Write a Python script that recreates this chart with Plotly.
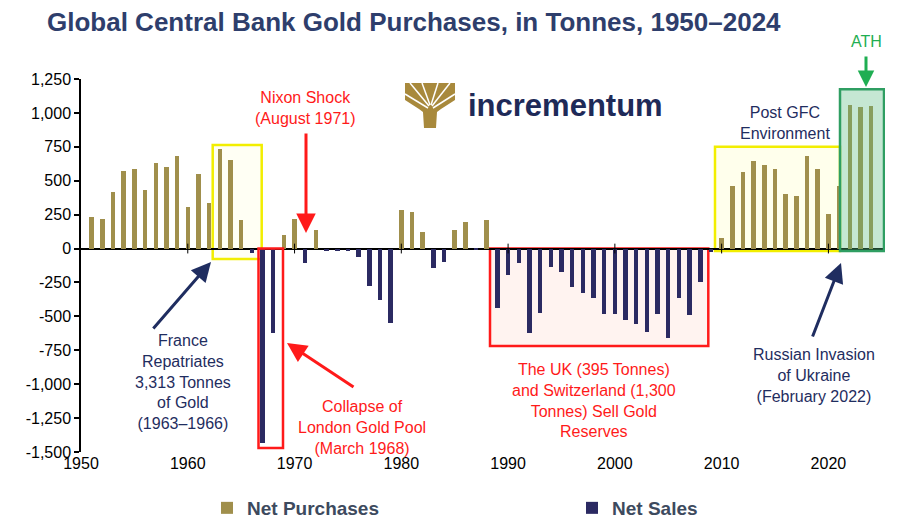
import plotly.graph_objects as go

# ---------------- data ----------------
years = list(range(1951, 2025))
tonnes = [
    235, 220, 415, 575, 585, 430, 630, 600, 685, 310,      # 1951-1960
    550, 338, 735, 650, 212, -35, -1430, -625, 98, 220,    # 1961-1970
    -110, 135, -15, -20, -20, -60, -274, -380, -551, 282,  # 1971-1980
    270, 122, -147, -98, 135, 196, -12, 208, -441, -196,   # 1981-1990
    -110, -625, -478, -135, -171, -282, -331, -368, -485, -485,  # 1991-2000
    -527, -559, -612, -485, -662, -368, -490, -245, -25, 80,     # 2001-2010
    463, 568, 642, 617, 590, 400, 390, 680, 590, 255,            # 2011-2020
    458, 1060, 1040, 1050,                                        # 2021-2024
]
x_ticks = [1950, 1960, 1970, 1980, 1990, 2000, 2010, 2020]
x_labels = ["1950", "1960", "1970", "1980", "1990", "2000", "2010", "2020"]
y_ticks = [-1500, -1250, -1000, -750, -500, -250, 0, 250, 500, 750, 1000, 1250]
y_labels = ["-1,500", "-1,250", "-1,000", "-750", "-500", "-250", "0",
            "250", "500", "750", "1,000", "1,250"]

purch_years = [y for y, v in zip(years, tonnes) if v >= 0]
purch_vals = [v for v in tonnes if v >= 0]
sales_years = [y for y, v in zip(years, tonnes) if v < 0]
sales_vals = [v for v in tonnes if v < 0]

# ---------------- styling ----------------
FONT = "Arial, Liberation Sans, sans-serif"
GOLD = "#a08f4c"
NAVY = "#2b2a62"
RED = "#ff1a1a"
DARKBLUE = "#1f2d60"
GREEN = "#1fae52"
TITLE = "#2e3e6c"

W, H = 912, 520
L, R, T, B = 81, 27, 79, 68
X0, X1 = 1950, 2025.3
Y0, Y1 = -1500, 1250
PW, PH = W - L - R, H - T - B


def px_x(px):
    return X0 + (px - L) / PW * (X1 - X0)


def px_y(py):
    return Y1 - (py - T) / PH * (Y1 - Y0)


def pap_x(px):
    return (px - L) / PW


def pap_y(py):
    return (H - B - py) / PH


fig = go.Figure()
fig.add_trace(go.Bar(x=purch_years, y=purch_vals, name="Net Purchases", legend="legend",
                     marker=dict(color=GOLD, line=dict(width=0)), width=0.42))
fig.add_trace(go.Bar(x=sales_years, y=sales_vals, name="Net Sales", legend="legend2",
                     marker=dict(color=NAVY, line=dict(width=0)), width=0.42))
# small tick marks on the zero line
fig.add_trace(go.Scatter(x=x_ticks[1:], y=[0] * (len(x_ticks) - 1), mode="markers",
                         marker=dict(symbol="line-ns", size=7,
                                     line=dict(width=1, color="black")),
                         showlegend=False, hoverinfo="skip"))

shapes = []
# France box (yellow)
shapes.append(dict(type="rect", xref="x", yref="y", x0=px_x(212.7), x1=px_x(261.7),
                   y0=px_y(259), y1=px_y(145), line=dict(color="#f2ee00", width=2.5),
                   fillcolor="rgba(255,255,210,0.25)", layer="below"))
# London gold pool box (red)
shapes.append(dict(type="rect", xref="x", yref="y", x0=px_x(258.5), x1=px_x(283),
                   y0=px_y(448), y1=0, line=dict(color=RED, width=2.5),
                   fillcolor="rgba(0,0,0,0)", layer="above"))
# UK / Switzerland box
shapes.append(dict(type="rect", xref="x", yref="y", x0=px_x(490), x1=px_x(708.3),
                   y0=px_y(346), y1=0, line=dict(color=RED, width=2.5),
                   fillcolor="rgba(255,215,205,0.3)", layer="below"))
# Post GFC box
shapes.append(dict(type="rect", xref="x", yref="y", x0=px_x(715), x1=px_x(840),
                   y0=px_y(251), y1=px_y(146.7), line=dict(color="#f2ee00", width=2.5),
                   fillcolor="rgba(255,255,200,0.35)", layer="below"))
# ATH box
shapes.append(dict(type="rect", xref="x", yref="y", x0=px_x(840), x1=px_x(884),
                   y0=px_y(251), y1=px_y(89.3), line=dict(color="#2f9e62", width=2.5),
                   fillcolor="rgba(90,185,130,0.35)", layer="above"))


# logo: stylised tree
def pth(points):
    return "M " + " L ".join(f"{pap_x(a):.5f},{pap_y(b):.5f}" for a, b in points) + " Z"


tree = [(405, 83), (455, 83), (455, 100), (441, 109), (437, 112), (436, 128),
        (424, 128), (423, 112), (419, 109), (405, 100)]
shapes.append(dict(type="path", xref="paper", yref="paper", path=pth(tree),
                   fillcolor="#a8893c", line=dict(width=0), layer="above"))
for (a, b), (c, d) in [((428, 108), (405, 94)), ((429, 106), (410, 83)),
                       ((430, 105), (422, 83)), ((431, 105), (438, 83)),
                       ((432, 106), (450, 83)), ((433, 108), (455, 94))]:
    shapes.append(dict(type="line", xref="paper", yref="paper",
                       x0=pap_x(a), y0=pap_y(b), x1=pap_x(c), y1=pap_y(d),
                       line=dict(color="white", width=1.5), layer="above"))

ann = []


def text(px, py, s, color, size=16, bold=False):
    ann.append(dict(xref="paper", yref="paper", x=pap_x(px), y=pap_y(py), text=s,
                    showarrow=False, xanchor="center", yanchor="middle",
                    font=dict(family=FONT, size=size, color=color,
                              weight="bold" if bold else "normal")))


def arrow(hx, hy, tx, ty, color, width=2.5, size=1.2):
    ann.append(dict(xref="paper", yref="paper", x=pap_x(hx), y=pap_y(hy), text="",
                    showarrow=True, ax=tx - hx, ay=ty - hy, arrowhead=2,
                    arrowsize=size, arrowwidth=width, arrowcolor=color))


text(305, 108, "Nixon Shock<br>(August 1971)", RED)
arrow(306, 233, 306, 132, RED, 3, 1.3)
text(362, 427, "Collapse of<br>London Gold Pool<br>(March 1968)", RED)
arrow(287, 343, 355, 388, RED, 3, 1.3)
text(183, 382, "France<br>Repatriates<br>3,313 Tonnes<br>of Gold<br>(1963\u20131966)", DARKBLUE)
arrow(211, 262, 152, 330, DARKBLUE, 3, 1.3)
text(594, 400, "The UK (395 Tonnes)<br>and Switzerland (1,300<br>Tonnes) Sell Gold<br>Reserves", RED)
text(814, 375, "Russian Invasion<br>of Ukraine<br>(February 2022)", DARKBLUE)
arrow(841, 263, 812, 338, DARKBLUE, 3, 1.3)
text(785, 123, "Post GFC<br>Environment", DARKBLUE)
text(866, 42, "ATH", GREEN)
arrow(866, 87, 866, 55, GREEN, 3, 1.1)
text(565, 105, "incrementum", "#1e2a58", size=31, bold=True)

LEGFONT = dict(family=FONT, size=19, color="#3d4a5e", weight="bold")
fig.update_layout(
    width=W, height=H, autosize=False,
    margin=dict(l=L, r=R, t=T, b=B, autoexpand=False),
    paper_bgcolor="white", plot_bgcolor="white",
    font=dict(family=FONT, color="black"),
    title=dict(text="Global Central Bank Gold Purchases, in Tonnes, 1950\u20132024",
               x=47 / W, xanchor="left", xref="container",
               y=1 - 22 / H, yanchor="middle", yref="container",
               font=dict(family=FONT, size=26, color=TITLE, weight="bold")),
    barmode="overlay", bargap=0,
    showlegend=True,
    legend=dict(orientation="h", x=pap_x(207), xanchor="left",
                y=pap_y(508), yanchor="middle", itemwidth=30,
                font=LEGFONT, bgcolor="rgba(0,0,0,0)"),
    legend2=dict(orientation="h", x=pap_x(572), xanchor="left",
                 y=pap_y(508), yanchor="middle", itemwidth=30,
                 font=LEGFONT, bgcolor="rgba(0,0,0,0)"),
    shapes=shapes, annotations=ann,
    xaxis=dict(range=[X0, X1], tickvals=x_ticks, ticktext=x_labels, automargin=False,
               showgrid=False, zeroline=False, showline=False, ticks="",
               tickfont=dict(family=FONT, size=16, color="black")),
    yaxis=dict(range=[Y0, Y1], tickvals=y_ticks, ticktext=y_labels, automargin=False,
               showgrid=False, zeroline=True, zerolinecolor="black", zerolinewidth=2,
               showline=True, linecolor="black", linewidth=1.5,
               ticks="outside", ticklen=5, tickcolor="black", tickwidth=1.5,
               tickfont=dict(family=FONT, size=16, color="black")),
)

fig.write_html("out.html", config={"displayModeBar": False},
               post_script="document.body.style.margin='0';"
                           "document.body.style.overflow='hidden';")
